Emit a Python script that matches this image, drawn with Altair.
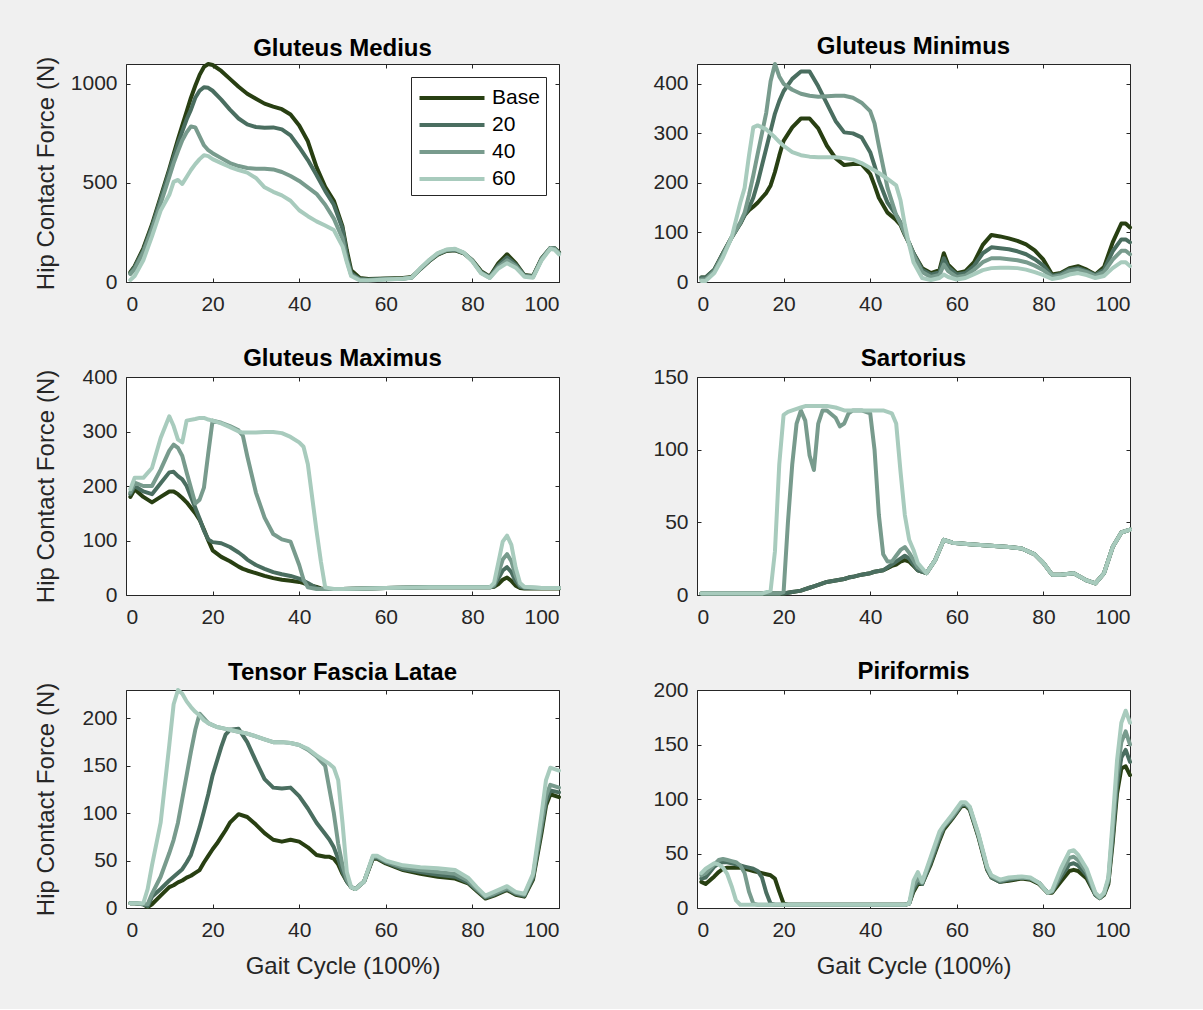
import altair as alt
import pandas as pd

FONT = "Liberation Sans"
SERIES = ["Base", "20", "40", "60"]
COLORS = ["#283f12", "#4a6e60", "#789b8d", "#a8cbbd"]
XTICKS = [0, 20, 40, 60, 80, 100]

# ---------------- Gluteus Medius ----------------
X_MED = [1, 2, 4, 6, 8, 10, 11, 12, 13, 14, 15, 16, 17, 18, 19, 20, 22, 24, 26, 28, 30, 32, 34, 36, 38, 40, 42, 44, 46, 48, 50,
         51, 52, 54, 56, 60, 64, 66, 68, 70, 72, 74, 76, 78, 80, 82, 84, 86, 88, 90, 92, 94, 96, 98, 99, 100]
MED_BASE = [50, 80, 170, 290, 430, 570, 645, 720, 790, 860, 930, 990, 1045, 1085, 1100, 1095,
            1065, 1025, 985, 950, 925, 900, 885, 872, 845, 790, 710, 580, 480, 410, 280,
            160, 60, 20, 15, 18, 20, 25, 65, 105, 138, 157, 160, 145, 110, 55, 27, 95, 140, 95, 35, 30, 120, 172, 170, 150]
MED_20 = [45, 75, 160, 280, 420, 560, 630, 700, 760, 820, 870, 930, 965, 983, 980, 965,
          920, 870, 825, 795, 782, 778, 780, 770, 740, 680, 615, 540, 460, 390, 270,
          140, 45, 15, 12, 16, 18, 23, 66, 107, 140, 159, 162, 146, 108, 50, 25, 85, 125, 88, 33, 28, 118, 172, 170, 148]
MED_40 = [40, 65, 150, 265, 395, 530, 600, 660, 715, 755, 785, 780, 735, 690, 665, 650,
          625, 600, 585, 575, 572, 572, 568, 555, 535, 510, 478, 445, 390, 320, 220,
          110, 35, 12, 10, 14, 17, 22, 68, 109, 143, 161, 165, 147, 106, 47, 22, 75, 110, 80, 30, 25, 115, 172, 168, 145]
MED_60 = [10, 30, 110, 230, 360, 440, 505, 515, 495, 530, 565, 595, 620, 640, 635, 620,
          600, 580, 565, 552, 525, 478, 455, 437, 410, 362, 332, 306, 285, 262, 180,
          100, 30, 8, 8, 12, 16, 22, 70, 111, 146, 164, 168, 148, 104, 44, 20, 68, 95, 72, 27, 22, 110, 168, 162, 140]

# ---------------- Gluteus Minimus ----------------
X_MIN = [1, 2, 4, 6, 8, 10, 11, 12, 13, 14, 15, 16, 17, 18, 19, 20, 22, 24, 26, 28, 30, 32, 34, 36, 38, 40, 41, 42, 44, 46,
         47, 48, 49, 50, 52, 54, 56, 57, 58, 60, 62, 64, 66, 68, 70, 72, 74, 76, 78, 80, 82, 84, 86, 88, 90, 92, 94, 96, 98, 99, 100]
MIN_BASE = [9, 9, 25, 58, 90, 118, 135, 145, 152, 160, 170, 180, 195, 222, 255, 285,
            312, 330, 330, 310, 275, 250, 236, 238, 238, 218, 195, 170, 140, 125,
            115, 95, 78, 58, 28, 18, 24, 58, 35,
            18, 22, 40, 75, 95, 92, 88, 83, 76, 64, 45, 15, 18, 28, 32, 25, 15, 30, 80, 118, 118, 110]
MIN_20 = [9, 9, 25, 58, 90, 118, 135, 150, 170, 200, 235, 270, 305, 340, 365, 385,
          410, 425, 425, 395, 360, 325, 302, 300, 292, 262, 235, 205, 160, 135,
          120, 98, 78, 58, 25, 15, 20, 48, 30,
          15, 18, 33, 58, 70, 68, 66, 62, 56, 46, 33, 12, 16, 25, 28, 22, 14, 25, 62, 86, 86, 80]
MIN_40 = [5, 5, 22, 55, 90, 120, 140, 175, 215, 258, 300, 342, 405, 440, 415, 400,
          388, 380, 376, 374, 375, 376, 376, 372, 362, 345, 320, 275, 190, 135,
          118, 98, 78, 55, 20, 10, 14, 35, 22,
          10, 13, 25, 40, 48, 48, 46, 44, 40, 33, 24, 10, 13, 22, 25, 20, 12, 20, 45, 63, 63, 56]
MIN_60 = [2, 2, 18, 50, 90, 160, 190, 255, 312, 316, 312, 308, 300, 292, 283, 275,
          262, 256, 253, 252, 252, 252, 250, 247, 240, 230, 225, 220, 208, 195,
          165, 115, 75, 40, 8, 4, 8, 15, 10,
          5, 8, 16, 24, 28, 29, 29, 28, 25, 20, 14, 6, 9, 15, 18, 14, 8, 12, 28, 40, 40, 32]

# ---------------- Gluteus Maximus ----------------
X_MAX = [1, 2, 4, 6, 8, 10, 11, 12, 13, 14, 16, 17, 18, 19, 20, 22, 24, 26, 27, 28, 30, 32, 34, 36, 38, 40, 41, 42, 44, 45, 46,
         48, 50, 60, 70, 80, 84, 85, 86, 87, 88, 89, 90, 91, 92, 96, 100]
MAX_BASE = [180, 194, 180, 170, 180, 190, 190, 185, 178, 170, 150, 138, 120, 100, 82, 70, 62, 52, 48, 45,
            40, 35, 31, 28, 26, 24, 22, 19, 15, 12, 11, 11, 11, 13, 14, 14, 14, 15, 20, 28, 32, 26, 17, 13, 12, 12, 12]
MAX_20 = [185, 200, 190, 185, 205, 225, 226, 218, 212, 200, 160, 140, 118, 102, 97, 95, 88, 78, 72, 65,
          55, 48, 42, 38, 35, 30, 26, 22, 13, 11, 11, 11, 11, 13, 14, 14, 14, 16, 30, 45, 51, 42, 25, 15, 13, 13, 13]
MAX_40 = [188, 206, 200, 200, 230, 265, 276, 270, 255, 225, 168, 175, 197, 260, 320, 316, 310, 302, 292, 255,
          188, 142, 112, 102, 98, 55, 28, 14, 11, 11, 11, 11, 11, 13, 14, 14, 14, 18, 40, 65, 75, 62, 35, 18, 14, 13, 13]
MAX_60 = [194, 215, 215, 233, 288, 328, 310, 285, 280, 320, 323, 325, 325, 322, 320, 315, 308, 300, 298, 298,
          298, 299, 299, 297, 290, 280, 272, 240, 118, 62, 14, 11, 11, 13, 14, 14, 14, 22, 60, 98, 109, 92, 50, 22, 15, 13, 13]

# ---------------- Sartorius ----------------
X_SAR = [1, 5, 10, 15, 17, 18, 19, 20, 21, 22, 23, 24, 25, 26, 27, 28, 29, 30, 32, 33, 34, 35, 36, 38, 40,
         41, 42, 43, 44, 45, 46, 47, 48, 49, 50, 51, 53, 55, 57, 59, 63, 67, 72, 75, 78, 80, 82, 84, 87, 90, 92, 94, 96, 98, 100]
SAR_BASE = [1, 1, 1, 1, 1, 1, 1, 1, 1.5, 2, 2.5, 3, 4, 5, 6, 7, 8, 9, 10, 10.5, 11, 12, 12.5, 14, 15,
            16, 16.5, 17, 18.5, 20, 21, 23, 24, 23, 20, 17, 15, 24, 38, 36, 35, 34, 33, 32, 28, 22, 14, 14, 15, 10, 8, 15, 33, 43, 45]
SAR_20 = [1, 1, 1, 1, 1, 1, 1, 1, 1.5, 2, 2.5, 3, 4, 5, 6, 7, 8, 9, 10, 10.5, 11, 12, 12.5, 14, 15,
          16, 16.5, 17, 19, 21, 23, 25, 27, 25, 21, 17, 15, 24, 38, 36, 35, 34, 33, 32, 28, 22, 14, 14, 15, 10, 8, 15, 33, 43, 45]
SAR_40 = [1, 1, 1, 1, 1, 1, 1, 2, 50, 90, 118, 127, 120, 96, 86, 118, 127, 127, 122, 116, 118, 125, 127, 127, 125,
          100, 55, 28, 23, 23, 27, 31, 33, 29, 24, 19, 15, 24, 38, 36, 35, 34, 33, 32, 28, 22, 14, 14, 15, 10, 8, 15, 33, 43, 45]
SAR_60 = [1, 1, 1, 1, 3, 30, 90, 124, 126, 127, 128, 129, 130, 130, 130, 130, 130, 130, 129, 128, 127, 127, 127, 127, 127,
          127, 127, 127, 126, 125, 118, 85, 55, 38, 31, 22, 15, 24, 38, 36, 35, 34, 33, 32, 28, 22, 14, 14, 15, 10, 8, 15, 33, 43, 45]

# ---------------- Tensor Fascia Latae ----------------
X_TFL = [1, 2, 4, 5, 6, 8, 10, 11, 12, 13, 14, 15, 16, 17, 18, 19, 20, 21, 22, 23, 24, 26, 28, 30, 32, 34, 36, 38, 40, 42, 44, 46,
         47, 48, 49, 50, 51, 52, 53, 55, 57, 58, 60, 64, 68, 72, 76, 79, 81, 83, 85, 88, 90, 92, 94, 96, 97, 98, 100]
TFL_BASE = [5, 5, 4, 1, 4, 13, 22, 24, 27, 29, 32, 34, 37, 40, 48, 55, 62, 68, 75, 82, 90,
            99, 96, 88, 79, 72, 70, 72, 70, 64, 56, 54, 54, 52, 46, 36, 28, 22, 20,
            28, 52, 52, 47, 40, 36, 33, 31, 26, 18, 10, 13, 19, 14, 12, 30, 80, 108, 120, 117]
TFL_20 = [5, 5, 4, 2, 12, 20, 29, 33, 37, 41, 48, 56, 70, 85, 102, 120, 140, 155, 170, 183, 188,
          189, 175, 155, 136, 127, 126, 127, 118, 105, 90, 78, 72, 64, 52, 38, 28, 22, 20,
          28, 53, 53, 48, 41, 38, 35, 33, 27, 19, 11, 14, 20, 15, 13, 32, 85, 112, 124, 122]
TFL_40 = [5, 5, 4, 4, 15, 33, 58, 72, 90, 115, 140, 165, 188, 205, 200, 195, 193, 191, 190, 189, 188,
          186, 184, 181, 178, 175, 175, 174, 172, 167, 160, 150, 125, 100, 68, 45, 30, 22, 20,
          28, 54, 54, 49, 43, 40, 38, 36, 29, 20, 12, 15, 21, 16, 14, 34, 90, 118, 130, 127]
TFL_60 = [5, 5, 5, 20, 45, 90, 172, 215, 230, 226, 218, 212, 207, 203, 198, 195, 193, 191, 190, 189, 188,
          186, 184, 181, 178, 175, 175, 174, 172, 168, 161, 155, 152, 148, 135, 90, 38, 22, 20,
          28, 55, 55, 50, 45, 43, 42, 40, 32, 22, 13, 17, 23, 17, 15, 36, 100, 135, 148, 145]

# ---------------- Piriformis ----------------
X_PIR = [1, 2, 4, 5, 6, 7, 8, 9, 10, 11, 12, 13, 14, 15, 16, 17, 18, 19, 20, 21, 25, 30, 35, 40, 45,
         48, 49, 50, 51, 52, 54, 56, 57, 59, 61, 62, 63, 65, 67, 68, 70, 72, 75, 77, 79, 81, 82, 84, 86, 87, 88, 90,
         92, 93, 94, 95, 96, 97, 98, 99, 100]
PIR_BASE = [24, 22, 29, 33, 36, 37, 37, 37, 37, 36, 35, 34, 33, 32, 31, 30, 27, 15, 4, 3, 3, 3, 3, 3, 3,
            3, 4, 15, 22, 22, 40, 62, 72, 82, 93, 94, 90, 65, 35, 28, 24, 25, 27, 26, 22, 14, 14, 24, 34, 35, 34, 27,
            12, 9, 12, 22, 60, 105, 128, 130, 122]
PIR_20 = [27, 28, 38, 41, 42, 42, 41, 40, 39, 38, 37, 36, 34, 28, 14, 4, 3, 3, 3, 3, 3, 3, 3, 3, 3,
          3, 4, 17, 24, 22, 42, 64, 74, 83, 94, 95, 91, 66, 36, 28, 24, 26, 28, 27, 23, 14, 15, 28, 40, 41, 39, 30,
          12, 9, 13, 24, 65, 112, 138, 145, 134]
PIR_40 = [30, 32, 40, 44, 45, 44, 43, 42, 39, 32, 15, 4, 3, 3, 3, 3, 3, 3, 3, 3, 3, 3, 3, 3, 3,
          3, 4, 20, 27, 23, 45, 67, 75, 84, 95, 96, 92, 67, 37, 29, 25, 27, 28, 27, 23, 14, 15, 31, 46, 47, 44, 33,
          13, 9, 13, 26, 72, 122, 152, 162, 150]
PIR_60 = [32, 36, 41, 40, 37, 31, 20, 7, 3, 3, 3, 3, 3, 3, 3, 3, 3, 3, 3, 3, 3, 3, 3, 3, 3,
          3, 4, 25, 33, 24, 47, 70, 76, 86, 97, 97, 93, 68, 38, 30, 26, 28, 29, 28, 23, 14, 16, 36, 52, 53, 49, 36,
          14, 10, 14, 28, 80, 135, 170, 181, 170]

PW, PH = 433, 218
AX = "#262626"


def panel(title, xs, ys_list, ymax, yvals, left, bottom, legend, tdy):
    rows = []
    for name, ys in zip(SERIES, ys_list):
        for x, y in zip(xs, ys):
            rows.append({"x": x, "v": y, "s": name})
    df = pd.DataFrame(rows)
    xscale = alt.Scale(domain=[0, 100], nice=False, zero=False)
    yscale = alt.Scale(domain=[0, ymax], nice=False)

    xkw = dict(values=XTICKS, orient="bottom", offset=-4, tickSize=4, domain=False, grid=False,
               labelPadding=11, format="d", title=None, minExtent=0)
    if bottom:
        xkw.update(title="Gait Cycle (100%)", titleY=62, titleBaseline="middle")
    ykw = dict(values=yvals, orient="left", offset=-4, tickSize=4, domain=False, grid=False,
               labelPadding=9, format="d", title=None, minExtent=0)
    if left:
        ykw.update(title="Hip Contact Force (N)", titleX=-84, titleY=PH / 2, titleBaseline="middle")

    if legend:
        leg = alt.Legend(orient="top-right", offset=13, title=None, symbolType="M-2.5,0H2.5", symbolSize=676,
                         symbolStrokeWidth=4, symbolOffset=20, labelFontSize=21, labelFont=FONT,
                         labelColor="#000000", fillColor="white", strokeColor=AX, padding=6, rowPadding=2,
                         labelOffset=25)
    else:
        leg = None

    lines = alt.Chart(df).mark_line(strokeWidth=4, strokeJoin="round", strokeCap="round").encode(
        x=alt.X("x:Q", scale=xscale, axis=alt.Axis(**xkw)),
        y=alt.Y("v:Q", scale=yscale, axis=alt.Axis(**ykw)),
        color=alt.Color("s:N", scale=alt.Scale(domain=SERIES, range=COLORS), legend=leg),
    )
    ticks = alt.Chart(df.iloc[:1]).mark_point(opacity=0, size=1).encode(
        x=alt.X("x:Q", scale=xscale, axis=alt.Axis(values=XTICKS, orient="top", offset=-4, tickSize=4,
                                                   labels=False, domain=False, grid=False, title=None,
                                                   minExtent=0, maxExtent=0)),
        y=alt.Y("v:Q", scale=yscale, axis=alt.Axis(values=yvals, orient="right", offset=-4, tickSize=4,
                                                   labels=False, domain=False, grid=False, title=None,
                                                   minExtent=0, maxExtent=0)),
    )
    return alt.layer(lines, ticks).resolve_axis(x="independent", y="independent").properties(
        width=PW, height=PH,
        title=alt.TitleParams(text=title, fontSize=24, fontWeight="bold", font=FONT, color="#000000",
                              offset=10, anchor="middle", baseline="alphabetic", frame="group", dy=tdy),
    )


p1 = panel("Gluteus Medius", X_MED, [MED_BASE, MED_20, MED_40, MED_60], 1100, [0, 500, 1000], True, False, True, 34)
p2 = panel("Gluteus Minimus", X_MIN, [MIN_BASE, MIN_20, MIN_40, MIN_60], 440, [0, 100, 200, 300, 400], False, False, False, 26)
p3 = panel("Gluteus Maximus", X_MAX, [MAX_BASE, MAX_20, MAX_40, MAX_60], 400, [0, 100, 200, 300, 400], True, False, False, 34)
p4 = panel("Sartorius", X_SAR, [SAR_BASE, SAR_20, SAR_40, SAR_60], 150, [0, 50, 100, 150], False, False, False, 34)
p5 = panel("Tensor Fascia Latae", X_TFL, [TFL_BASE, TFL_20, TFL_40, TFL_60], 230, [0, 50, 100, 150, 200], True, True, False, 32)
p6 = panel("Piriformis", X_PIR, [PIR_BASE, PIR_20, PIR_40, PIR_60], 200, [0, 50, 100, 150, 200], False, True, False, 34)

chart = alt.concat(p1, p2, p3, p4, p5, p6, columns=2, spacing={"row": 95, "column": 138}, bounds="flush").resolve_scale(
    color="independent").resolve_legend(color="independent").configure(
    background="#f0f0f0",
    padding={"left": 33, "top": 34, "right": 70, "bottom": 30},
    font=FONT,
).configure_view(stroke=AX, strokeWidth=1, fill="white").configure_axis(
    labelFont=FONT, labelFontSize=21, labelColor=AX, titleFont=FONT, titleFontSize=24,
    titleFontWeight="normal", titleColor=AX, tickColor=AX, tickWidth=1,
)

chart.save("out.html", embed_options={"renderer": "svg", "actions": False})
